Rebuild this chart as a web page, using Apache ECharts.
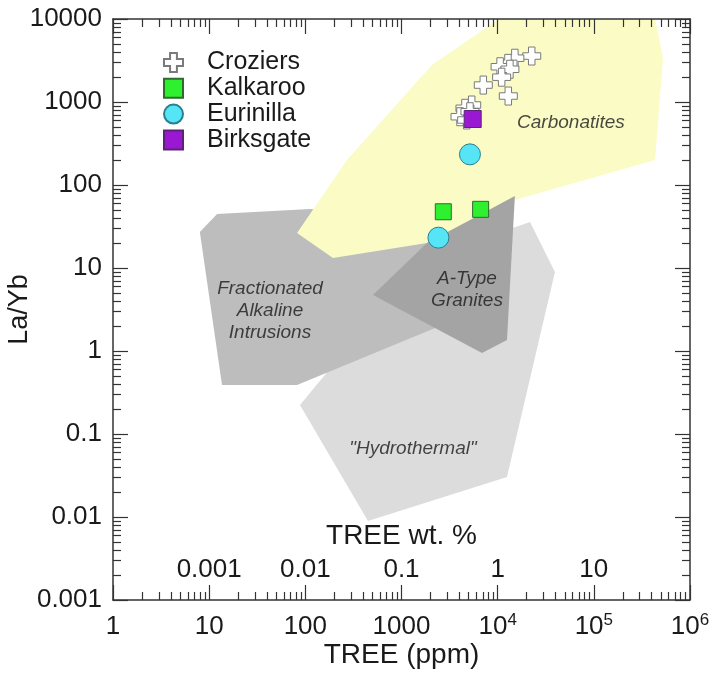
<!DOCTYPE html>
<html>
<head>
<meta charset="utf-8">
<script src="https://cdn.jsdelivr.net/npm/echarts@6/dist/echarts.min.js"></script>
<style>html,body{margin:0;padding:0;background:#fff}#c{width:709px;height:673px}</style>
</head>
<body>
<div id="c"></div>
<script>
// ---- data (TREE ppm, La/Yb) ----
const xTicks = [1, 10, 100, 1000, 1e4, 1e5, 1e6];
const yTicks = [0.001, 0.01, 0.1, 1, 10, 100, 1000, 10000];
const wtTicks = [10, 100, 1000, 1e4, 1e5];
const legendNames = ['Croziers', 'Kalkaroo', 'Eurinilla', 'Birksgate'];

const croziers = [
  [22600, 3580], [15100, 3370], [12800, 2920], [10600, 2660], [13400, 2480],
  [11000, 1990], [7090, 1600], [12900, 1180], [5370, 920], [4570, 840],
  [4060, 665], [4760, 607], [5150, 764]
];
const kalkaroo = [[2720, 47.6], [6650, 50.9]];
const eurinilla = [[5150, 234], [2420, 23.2]];
const birksgate = [[5500, 624]];

const carbonatites = [
  [82, 26.4], [271, 200], [2075, 2790], [10300, 10000], [433000, 10000],
  [524000, 3390], [433000, 200], [15100, 66], [1840, 20], [194, 13.2]
];
const fractionated = [
  [8.0, 27.2], [12.1, 44.8], [112, 51.4], [1978, 43.6], [5150, 5.43],
  [2512, 2.0], [82, 0.389], [13.6, 0.389]
];
const aType = [[505, 4.73], [1840, 20], [15100, 73.6], [12500, 1.36], [6870, 0.946]];
const hydrothermal = [[88, 0.223], [448, 0.00895], [12500, 0.0303], [39400, 8.95], [21700, 35.8], [1557, 12.5]];

const fieldLabelPos = [[57800, 559], [42.9, 3.03], [4800, 5.43], [1316, 0.0659]];
const fieldLabelText = ['Carbonatites', 'Fractionated\nAlkaline\nIntrusions', 'A-Type\nGranites', '"Hydrothermal"'];

// ---- helpers ----
const FONT = '"Liberation Sans", Arial, sans-serif';
const TXT = '#1a1a1a';
const LINE = {color: '#333', width: 1.5};
const TICK = {color: '#333', width: 1.2};
function expOf(v) { return Math.round(Math.log10(v)); }
function decadeLabel(v) {
  const e = expOf(v);
  if (e < 0) return '0.' + '0'.repeat(-e - 1) + '1';
  return String(Math.pow(10, e));
}
function xLabel(v) {
  const e = expOf(v);
  return e <= 3 ? '{b|' + Math.pow(10, e) + '}' : '{b|10}{s|' + e + '}';
}
// minor tick positions (2..9 x each decade), expressed as exponents
function minorExponents(ticks) {
  const out = [];
  for (let i = 0; i < ticks.length - 1; i++)
    for (let m = 2; m <= 9; m++) out.push(Math.log10(ticks[i] * m));
  return out;
}
const crossPath = 'path://M32,0H68V32H100V68H68V100H32V68H0V32H32Z';

function polySeries(name, pts, fill) {
  return {
    type: 'custom', name: name, silent: true, z: 1,
    data: pts, encode: {x: 0, y: 1},
    renderItem: function (params, api) {
      if (params.dataIndex !== 0) return null;
      return {
        type: 'polygon',
        shape: {points: pts.map(function (p) { return api.coord(p); })},
        style: {fill: fill, stroke: null}
      };
    }
  };
}

function majorAxis(ticks, position) {
  return {
    type: 'log', logBase: 10, min: ticks[0], max: ticks[ticks.length - 1], interval: 1,
    position: position, z: 10, splitLine: {show: false},
    axisLine: {show: true, onZero: false, lineStyle: LINE},
    axisTick: {show: true, inside: true, length: 15, lineStyle: TICK},
    axisLabel: {show: false}
  };
}
function minorAxis(ticks, position) {
  return {
    type: 'value', min: Math.log10(ticks[0]), max: Math.log10(ticks[ticks.length - 1]),
    position: position, z: 10, splitLine: {show: false},
    axisLine: {show: false, onZero: false},
    axisTick: {show: true, inside: true, length: 8, lineStyle: TICK, customValues: minorExponents(ticks)},
    axisLabel: {show: false}
  };
}

const xMain = majorAxis(xTicks, 'bottom');
xMain.axisLabel = {
  show: true, margin: 12, formatter: xLabel, color: TXT, fontFamily: FONT,
  rich: {
    b: {fontSize: 26, lineHeight: 30, color: TXT, fontFamily: FONT},
    s: {fontSize: 17, lineHeight: 17, verticalAlign: 'top', color: TXT, fontFamily: FONT}
  }
};
xMain.name = 'TREE (ppm)';
xMain.nameLocation = 'middle';
xMain.nameGap = 41;
xMain.nameMoveOverlap = false;
xMain.nameTextStyle = {fontSize: 28, color: TXT, fontFamily: FONT};

const yMain = majorAxis(yTicks, 'left');
yMain.axisLabel = {show: true, margin: 11, formatter: decadeLabel, fontSize: 26, color: TXT, fontFamily: FONT};
yMain.name = 'La/Yb';
yMain.nameLocation = 'middle';
yMain.nameGap = 80;
yMain.nameMoveOverlap = false;
yMain.nameTextStyle = {fontSize: 27, color: TXT, fontFamily: FONT};

const wtAxis = {
  type: 'log', logBase: 10, min: xTicks[0], max: xTicks[xTicks.length - 1], interval: 1,
  position: 'bottom', z: 10, splitLine: {show: false},
  axisLine: {show: false, onZero: false}, axisTick: {show: false},
  axisLabel: {
    show: true, inside: true, margin: 17, fontSize: 26, color: TXT, fontFamily: FONT,
    formatter: function (v) {
      const e = expOf(v);
      return wtTicks.some(function (t) { return expOf(t) === e; }) ? decadeLabel(v / 1e4) : '';
    }
  },
  name: 'TREE wt. %', nameLocation: 'middle', nameGap: -78, nameMoveOverlap: false,
  nameTextStyle: {fontSize: 28, color: TXT, fontFamily: FONT}
};

const chart = echarts.init(document.getElementById('c'), null, {renderer: 'canvas'});
chart.setOption({
  animation: false,
  backgroundColor: '#fff',
  grid: {left: 113, right: 19, top: 19, bottom: 73, containLabel: false, outerBoundsMode: 'none'},
  xAxis: [
    xMain,
    minorAxis(xTicks, 'bottom'),
    majorAxis(xTicks, 'top'),
    minorAxis(xTicks, 'top'),
    wtAxis
  ],
  yAxis: [
    yMain,
    minorAxis(yTicks, 'left'),
    majorAxis(yTicks, 'right'),
    minorAxis(yTicks, 'right')
  ],
  legend: {
    data: legendNames, orient: 'vertical', left: 163, top: 50, padding: 0,
    itemWidth: 19, itemHeight: 19, itemGap: 0.8,
    textStyle: {fontSize: 25, lineHeight: 25, color: TXT, fontFamily: FONT, padding: [0, 0, 0, 19]}
  },
  series: [
    polySeries('hydrothermal', hydrothermal, '#dcdcdc'),
    polySeries('fractionated', fractionated, '#bdbdbd'),
    polySeries('carbonatites', carbonatites, '#fbfbc6'),
    polySeries('atype', aType, '#a4a4a4'),
    {
      type: 'scatter', name: 'fieldLabels', silent: true, z: 3, symbolSize: 0,
      data: fieldLabelPos.map(function (p, i) { return {name: fieldLabelText[i], value: p}; }),
      label: {
        show: true, position: 'inside', formatter: function (p) { return p.name; },
        fontStyle: 'italic', fontSize: 19, lineHeight: 22, color: TXT, fontFamily: FONT
      }
    },
    {
      type: 'scatter', name: 'Croziers', z: 4, symbol: crossPath, symbolSize: 18, data: croziers,
      itemStyle: {color: '#ffffff', borderColor: '#7a7a7a', borderWidth: 1, opacity: 1}
    },
    {
      type: 'scatter', name: 'Eurinilla', z: 4, symbol: 'circle', symbolSize: 21, data: eurinilla,
      itemStyle: {color: '#55e5f6', borderColor: '#2a7f8c', borderWidth: 1, opacity: 1}
    },
    {
      type: 'scatter', name: 'Kalkaroo', z: 4, symbol: 'rect', symbolSize: 16, data: kalkaroo,
      itemStyle: {color: '#2ff02f', borderColor: '#2f6a2f', borderWidth: 1, opacity: 1}
    },
    {
      type: 'scatter', name: 'Birksgate', z: 4, symbol: 'rect', symbolSize: 17, data: birksgate,
      itemStyle: {color: '#9a18d2', borderColor: '#5b2277', borderWidth: 1, opacity: 1}
    }
  ]
});
</script>
</body>
</html>
